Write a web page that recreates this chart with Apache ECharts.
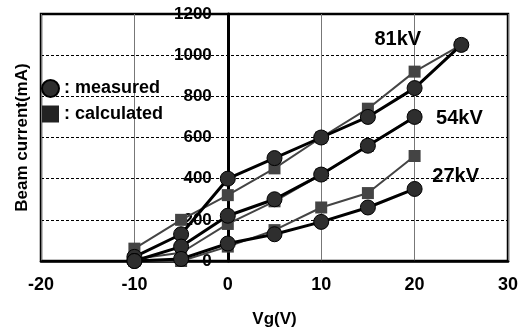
<!DOCTYPE html>
<html>
<head>
<meta charset="utf-8">
<script src="https://cdn.jsdelivr.net/npm/echarts@6/dist/echarts.min.js"></script>
<style>
  html, body { margin: 0; padding: 0; background: #fff; }
  #chart { width: 523px; height: 332px; }
</style>
</head>
<body>
<div id="chart"></div>
<script>
// Vg(V) -> Beam current(mA)
var meas81 = [[-10, 20], [-5, 130], [0, 400], [5, 500], [10, 600], [15, 700], [20, 840], [25, 1050]];
var calc81 = [[-10, 60], [-5, 200], [0, 320], [5, 450], [10, 600], [15, 740], [20, 920], [25, 1050]];
var meas54 = [[-10, 0], [-5, 70], [0, 220], [5, 300], [10, 420], [15, 560], [20, 700]];
var calc54 = [[-10, 10], [-5, 40], [0, 180], [5, 290], [10, 420], [15, 560], [20, 700]];
var meas27 = [[-10, 0], [-5, 10], [0, 85], [5, 130], [10, 190], [15, 260], [20, 350]];
var calc27 = [[-10, 0], [-5, 0], [0, 70], [5, 150], [10, 260], [15, 330], [20, 510]];
var voltLabels = [
    { text: '81kV', pos: [18.2, 1076] },
    { text: '54kV', pos: [24.8, 690] },
    { text: '27kV', pos: [24.4, 413] }
];

var font = '"Liberation Sans", Arial, sans-serif';
var myChart = echarts.init(document.getElementById('chart'));

function measSeries(data){
    return {
        type: 'line',
        name: 'measured',
        data: data,
        symbol: 'circle',
        symbolSize: 15,
        itemStyle: { color: '#2e2e2e', borderColor: '#000', borderWidth: 1 },
        lineStyle: { color: '#000', width: 3 },
        z: 4,
        animation: false
    }
}
function calcSeries(data){
    return {
        type: 'line',
        name: 'calculated',
        data: data,
        symbol: 'rect',
        symbolSize: 12,
        itemStyle: { color: '#444' },
        lineStyle: { color: '#444', width: 2 },
        z: 3,
        animation: false
    }
}

// x=0 sits 20/50 of the plot width from the left edge
var gridW = 523 - 41 - 15;
var zeroOffset = -gridW * 20 / 50;

var option = {
    backgroundColor: '#fff',
    grid: {
        left: 41, right: 15, top: 14, bottom: 71,
        show: true,
        borderColor: '#000',
        borderWidth: 2.5,
        containLabel: false,
        outerBoundsMode: 'none'
    },
    legend: {
        orient: 'vertical',
        left: 41,
        top: 79,
        padding: 0,
        itemWidth: 17,
        itemHeight: 17,
        itemGap: 7,
        selectedMode: false,
        formatter: ': {name}',
        textStyle: { color: '#000', fontSize: 18, fontWeight: 'bold', fontFamily: font },
        data: [
            { name: 'measured', icon: 'circle', itemStyle: { color: '#2e2e2e' } },
            { name: 'calculated', icon: 'rect', itemStyle: { color: '#222' } }
        ]
    },
    xAxis: {
        type: 'value',
        min: -20,
        max: 30,
        interval: 10,
        name: 'Vg(V)',
        nameLocation: 'middle',
        nameGap: 50,
        nameTextStyle: { color: '#000', fontSize: 17, fontWeight: 'bold', fontFamily: font },
        axisLine: { onZero: false, lineStyle: { color: '#000', width: 2.5 } },
        axisTick: { show: false },
        axisLabel: { color: '#000', fontSize: 18, fontWeight: 'bold', fontFamily: font, margin: 15 },
        splitLine: { show: true, lineStyle: { color: '#777', width: 1 } }
    },
    yAxis: {
        type: 'value',
        min: 0,
        max: 1200,
        interval: 200,
        position: 'left',
        offset: zeroOffset,
        name: 'Beam current(mA)',
        nameLocation: 'middle',
        nameGap: 197,
        nameTextStyle: { color: '#000', fontSize: 17, fontWeight: 'bold', fontFamily: font },
        axisLine: { onZero: false, lineStyle: { color: '#000', width: 3 } },
        axisTick: { show: false },
        axisLabel: {
            color: '#000', fontSize: 17, fontWeight: 'bold', fontFamily: font, margin: 16,
            formatter: function(v){ return String(v); }
        },
        splitLine: { show: true, lineStyle: { color: '#000', width: 1, type: [3, 2] } }
    },
    series: [
        measSeries(meas81), calcSeries(calc81),
        measSeries(meas54), calcSeries(calc54),
        measSeries(meas27), calcSeries(calc27),
        { // kV labels
            type: 'scatter',
            name: 'kv',
            symbolSize: 1,
            itemStyle: { color: 'transparent', opacity: 1 },
            silent: true,
            animation: false,
            data: voltLabels.map(function(item){
                return {
                    value: item.pos,
                    label: {
                        show: true,
                        position: 'inside',
                        formatter: item.text,
                        color: '#000',
                        fontSize: 20,
                        fontWeight: 'bold',
                        fontFamily: font
                    }
                }
            })
        }
    ]
};
myChart.setOption(option);
</script>
</body>
</html>
